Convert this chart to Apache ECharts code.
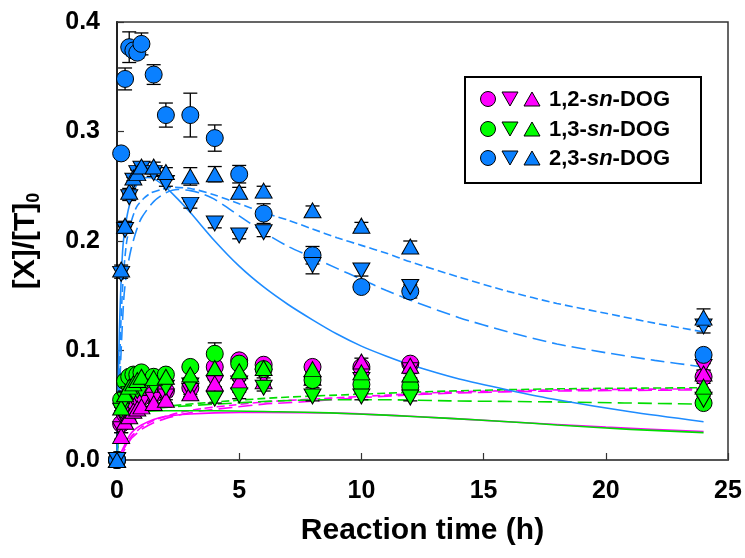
<!DOCTYPE html>
<html><head><meta charset="utf-8">
<script src="https://cdn.jsdelivr.net/npm/echarts@6/dist/echarts.min.js"></script>
<style>html,body{margin:0;padding:0;background:#fff}#c{width:745px;height:558px}</style>
</head><body><div id="c"></div>
<script>
// ---- data ----
const times = [0, 0.17, 0.33, 0.5, 0.67, 0.83, 1, 1.5, 2, 3, 4, 5, 6, 8, 10, 12, 24];
const xTicks = [0, 5, 10, 15, 20, 25];
const yTicks = [0.0, 0.1, 0.2, 0.3, 0.4];

// 1,2-sn-DOG (magenta)
const dog12Circle = [0, 0.033, 0.042, 0.048, 0.052, 0.055, 0.057, 0.060, 0.063, 0.066, 0.085, 0.091, 0.087, 0.085, 0.085, 0.088, 0.076];
const dog12Down   = [0, 0.028, 0.037, 0.043, 0.047, 0.050, 0.052, 0.055, 0.058, 0.063, 0.070, 0.070, 0.076, 0.069, 0.073, 0.082, 0.085];
const dog12Up     = [0, 0.022, 0.035, 0.040, 0.045, 0.047, 0.049, 0.052, 0.055, 0.061, 0.070, 0.072, 0.072, 0.075, 0.090, 0.086, 0.079];
// 1,3-sn-DOG (green)
const dog13Circle = [0, 0.055, 0.072, 0.076, 0.078, 0.078, 0.080, 0.076, 0.078, 0.085, 0.097, 0.088, 0.083, 0.073, 0.069, 0.067, 0.052];
const dog13Down   = [0, 0.045, 0.055, 0.060, 0.062, 0.063, 0.064, 0.067, 0.066, 0.068, 0.056, 0.059, 0.066, 0.058, 0.058, 0.057, 0.055];
const dog13Up     = [0, 0.048, 0.060, 0.067, 0.070, 0.073, 0.076, 0.075, 0.076, 0.078, 0.084, 0.081, 0.084, 0.083, 0.080, 0.078, 0.067];
// 2,3-sn-DOG (blue)
const dog23Circle = [0, 0.280, 0.348, 0.377, 0.374, 0.372, 0.380, 0.352, 0.315, 0.315, 0.294, 0.261, 0.225, 0.187, 0.158, 0.154, 0.096];
const dog23Down   = [0, 0.170, 0.210, 0.240, 0.255, 0.262, 0.266, 0.262, 0.253, 0.233, 0.216, 0.205, 0.208, 0.178, 0.173, 0.158, 0.122];
const dog23Up     = [0, 0.174, 0.214, 0.245, 0.258, 0.262, 0.268, 0.268, 0.263, 0.259, 0.261, 0.245, 0.246, 0.228, 0.214, 0.195, 0.130];

// error half-widths
const dog12CircleErr = [0, 0.003, 0.003, 0.003, 0.003, 0.003, 0.003, 0.003, 0.003, 0.003, 0.004, 0.003, 0.003, 0.003, 0.003, 0.003, 0.003];
const dog12DownErr   = [0, 0.003, 0.003, 0.003, 0.003, 0.003, 0.003, 0.003, 0.003, 0.003, 0.004, 0.003, 0.004, 0.003, 0.003, 0.003, 0.003];
const dog12UpErr     = [0, 0.003, 0.003, 0.003, 0.003, 0.003, 0.003, 0.003, 0.003, 0.003, 0.003, 0.003, 0.003, 0.003, 0.003, 0.003, 0.003];
const dog13CircleErr = [0, 0.003, 0.003, 0.003, 0.003, 0.003, 0.004, 0.003, 0.003, 0.003, 0.010, 0.003, 0.003, 0.003, 0.003, 0.003, 0.003];
const dog13DownErr   = [0, 0.003, 0.003, 0.003, 0.003, 0.003, 0.003, 0.003, 0.003, 0.003, 0.004, 0.003, 0.003, 0.004, 0.003, 0.003, 0.003];
const dog13UpErr     = [0, 0.003, 0.003, 0.003, 0.003, 0.003, 0.003, 0.003, 0.003, 0.003, 0.003, 0.003, 0.003, 0.003, 0.003, 0.003, 0.003];
const dog23CircleErr = [0, 0.004, 0.010, 0.014, 0.005, 0.005, 0.010, 0.009, 0.011, 0.020, 0.012, 0.008, 0.009, 0.008, 0.004, 0.006, 0.004];
const dog23DownErr   = [0, 0.004, 0.003, 0.003, 0.003, 0.003, 0.003, 0.003, 0.003, 0.003, 0.004, 0.003, 0.004, 0.008, 0.005, 0.005, 0.006];
const dog23UpErr     = [0, 0.004, 0.004, 0.003, 0.003, 0.003, 0.003, 0.004, 0.004, 0.008, 0.007, 0.004, 0.004, 0.004, 0.003, 0.005, 0.008];

// fitted model curves ([time, value])
const fit23Solid = [[0,0],[0.05,0.07],[0.1,0.12],[0.17,0.165],[0.25,0.197],[0.35,0.215],[0.5,0.232],[0.75,0.249],[1,0.256],[1.25,0.258],[1.5,0.257],[2,0.249],[2.5,0.238],[3,0.226],[4,0.2],[5,0.177],[6,0.158],[7,0.142],[8,0.128],[9,0.115],[10,0.104],[11,0.095],[12,0.087],[14,0.074],[16,0.064],[18,0.055],[21,0.044],[24,0.035]];
const fit23Short = [[0,0],[0.08,0.06],[0.15,0.12],[0.25,0.165],[0.4,0.2],[0.6,0.219],[0.8,0.231],[1.1,0.239],[1.4,0.244],[1.8,0.247],[2.2,0.249],[3,0.248],[4,0.242],[5,0.234],[6,0.226],[7,0.219],[8,0.211],[9,0.203],[10,0.196],[11,0.189],[12,0.181],[14,0.167],[16,0.154],[18,0.143],[20,0.134],[22,0.125],[24,0.117]];
const fit23Long  = [[0,0],[0.08,0.04],[0.15,0.09],[0.28,0.148],[0.4,0.172],[0.57,0.192],[0.8,0.21],[1,0.221],[1.5,0.236],[2,0.244],[2.5,0.247],[3,0.246],[3.5,0.243],[4,0.238],[5,0.223],[6,0.208],[7,0.195],[8,0.185],[9,0.175],[10,0.165],[11,0.155],[12,0.146],[14,0.13],[16,0.117],[18,0.106],[20,0.098],[22,0.091],[24,0.085]];
const fit12Solid = [[0,0],[0.15,0.006],[0.3,0.013],[0.45,0.02],[0.6,0.025],[0.8,0.029],[1,0.032],[1.5,0.037],[2,0.04],[3,0.042],[4,0.043],[6,0.0435],[8.7,0.043],[12,0.04],[16,0.035],[20,0.03],[24,0.026]];
const fit12Short = [[0,0],[0.15,0.005],[0.3,0.011],[0.45,0.017],[0.6,0.022],[0.8,0.026],[1,0.03],[1.5,0.036],[2,0.04],[2.7,0.044],[3.5,0.047],[4.7,0.05],[6,0.053],[7.5,0.055],[10,0.058],[13.6,0.062],[18,0.064],[24,0.065]];
const fit12Long  = [[0,0],[0.15,0.004],[0.3,0.009],[0.45,0.015],[0.6,0.02],[0.8,0.024],[1,0.028],[1.5,0.034],[2,0.038],[2.7,0.042],[3.5,0.045],[4.7,0.048],[6,0.051],[7.5,0.053],[10,0.057],[13.6,0.061],[18,0.063],[24,0.064]];
const fit13Solid = [[0,0],[0.04,0.025],[0.08,0.036],[0.15,0.039],[0.3,0.041],[0.6,0.043],[1,0.044],[2,0.045],[4,0.045],[6.6,0.044],[8.7,0.043],[11,0.041],[13.6,0.038],[16,0.035],[18,0.032],[21,0.028],[24,0.025]];
const fit13Short = [[0,0],[0.05,0.02],[0.1,0.03],[0.2,0.037],[0.3,0.04],[0.6,0.044],[1,0.046],[2,0.049],[4,0.053],[6.6,0.057],[8.7,0.059],[11,0.061],[13.6,0.063],[18,0.065],[24,0.066]];
const fit13Long  = [[0,0],[0.05,0.02],[0.1,0.03],[0.2,0.037],[0.3,0.04],[0.6,0.043],[1,0.045],[2,0.048],[4,0.051],[6.6,0.054],[8.7,0.055],[11,0.055],[13.6,0.054],[18,0.053],[24,0.051]];

const legendNames = ['1,2-', '1,3-', '2,3-'];

// ---- styles ----
const MAG = '#FF00FF', GRN = '#00FF00', BLU = '#0A80FF';
const MAGL = '#FF00FF', GRNL = '#00DD00', BLUL = '#1E8CFF';
const FONT = 'Liberation Sans, Arial, sans-serif';

function lineSeries(data, color, type) {
  return {
    type: 'line', data: data, showSymbol: false, smooth: 0.25,
    lineStyle: { color: color, width: 1.6, type: type }, z: 1, silent: true
  };
}
function errSeries(vals, errs) {
  return {
    type: 'custom', z: 2, silent: true,
    data: times.map((t, i) => [t, vals[i], errs[i]]),
    encode: { x: 0, y: 1 },
    renderItem: function (params, api) {
      const x = api.value(0), y = api.value(1), e = api.value(2);
      if (!e) return null;
      const hi = api.coord([x, y + e]), lo = api.coord([x, y - e]);
      const w = 7, st = { stroke: '#000', lineWidth: 1.3 };
      return { type: 'group', children: [
        { type: 'line', shape: { x1: hi[0], y1: hi[1], x2: lo[0], y2: lo[1] }, style: st },
        { type: 'line', shape: { x1: hi[0] - w, y1: hi[1], x2: hi[0] + w, y2: hi[1] }, style: st },
        { type: 'line', shape: { x1: lo[0] - w, y1: lo[1], x2: lo[0] + w, y2: lo[1] }, style: st }
      ]};
    }
  };
}
function scatterSeries(vals, color, kind) {
  return {
    type: 'scatter', z: 3, silent: true,
    data: times.map((t, i) => [t, vals[i]]),
    symbol: kind === 'circle' ? 'circle' : 'triangle',
    symbolRotate: kind === 'down' ? 180 : 0,
    symbolSize: kind === 'circle' ? 17 : [17, 15],
    itemStyle: { color: color, borderColor: '#000', borderWidth: 1, opacity: 1 }
  };
}

const series = [
  lineSeries(fit12Solid, MAGL, 'solid'), lineSeries(fit12Short, MAGL, [8, 4]), lineSeries(fit12Long, MAGL, [14, 6]),
  lineSeries(fit13Solid, GRNL, 'solid'), lineSeries(fit13Short, GRNL, [8, 4]), lineSeries(fit13Long, GRNL, [14, 6]),
  lineSeries(fit23Solid, BLUL, 'solid'), lineSeries(fit23Short, BLUL, [8, 4]), lineSeries(fit23Long, BLUL, [14, 6]),
  errSeries(dog12Circle, dog12CircleErr), errSeries(dog12Down, dog12DownErr), errSeries(dog12Up, dog12UpErr),
  errSeries(dog13Circle, dog13CircleErr), errSeries(dog13Down, dog13DownErr), errSeries(dog13Up, dog13UpErr),
  errSeries(dog23Circle, dog23CircleErr), errSeries(dog23Down, dog23DownErr), errSeries(dog23Up, dog23UpErr),
  scatterSeries(dog12Circle, MAG, 'circle'), scatterSeries(dog12Down, MAG, 'down'), scatterSeries(dog12Up, MAG, 'up'),
  scatterSeries(dog13Circle, GRN, 'circle'), scatterSeries(dog13Down, GRN, 'down'), scatterSeries(dog13Up, GRN, 'up'),
  scatterSeries(dog23Circle, BLU, 'circle'), scatterSeries(dog23Down, BLU, 'down'), scatterSeries(dog23Up, BLU, 'up')
];

// legend built as graphics (three symbols per row)
const legendColors = [MAG, GRN, BLU];
const rowY = [99, 129, 158];
const legendGraphics = [{
  type: 'rect', shape: { x: 465, y: 77, width: 236, height: 106 },
  style: { fill: '#fff', stroke: '#000', lineWidth: 2 }, z: 10
}];
legendNames.forEach((nm, i) => {
  const cy = rowY[i], col = legendColors[i];
  legendGraphics.push(
    { type: 'circle', shape: { cx: 488, cy: cy, r: 7.5 }, style: { fill: col, stroke: '#000', lineWidth: 1 }, z: 11 },
    { type: 'polygon', shape: { points: [[502, cy - 7], [518, cy - 7], [510, cy + 7]] }, style: { fill: col, stroke: '#000', lineWidth: 1 }, z: 11 },
    { type: 'polygon', shape: { points: [[524, cy + 7], [540, cy + 7], [532, cy - 7]] }, style: { fill: col, stroke: '#000', lineWidth: 1 }, z: 11 },
    { type: 'text', x: 549, y: cy + 1, z: 11, style: {
      text: '{a|' + nm + '}{i|sn}{a|-DOG}', verticalAlign: 'middle', align: 'left',
      rich: {
        a: { fontSize: 22, fontWeight: 'bold', fontFamily: FONT, fill: '#000' },
        i: { fontSize: 22, fontWeight: 'bold', fontStyle: 'italic', fontFamily: FONT, fill: '#000' }
      }
    }}
  );
});

const chart = echarts.init(document.getElementById('c'), null, { renderer: 'canvas' });
chart.setOption({
  animation: false,
  backgroundColor: '#fff',
  grid: { left: 117, right: 17, top: 22, bottom: 98, show: true, borderColor: '#333', borderWidth: 1.5, backgroundColor: 'transparent' },
  xAxis: {
    type: 'value', min: xTicks[0], max: xTicks[xTicks.length - 1], interval: 5,
    name: 'Reaction time (h)', nameLocation: 'middle', nameGap: 56,
    nameTextStyle: { fontSize: 30, fontWeight: 'bold', fontFamily: FONT, color: '#000' },
    axisLine: { onZero: false, lineStyle: { color: '#555', width: 2 } },
    axisTick: { inside: true, length: 7, lineStyle: { color: '#333', width: 1.2 } },
    axisLabel: { fontSize: 25, fontWeight: 'bold', fontFamily: FONT, color: '#000', margin: 19 },
    splitLine: { show: false }
  },
  yAxis: {
    type: 'value', min: yTicks[0], max: yTicks[yTicks.length - 1], interval: 0.1,
    name: '{a|[X]/[T]}{b|0}', nameLocation: 'middle', nameGap: 74,
    nameTextStyle: {
      rich: {
        a: { fontSize: 30, fontWeight: 'bold', fontFamily: FONT, color: '#000', lineHeight: 34, verticalAlign: 'middle' },
        b: { fontSize: 18, fontWeight: 'bold', fontFamily: FONT, color: '#000', lineHeight: 34, verticalAlign: 'bottom' }
      }
    },
    axisLine: { onZero: false, lineStyle: { color: '#222', width: 2 } },
    axisTick: { inside: true, length: 7, lineStyle: { color: '#333', width: 1.2 } },
    axisLabel: { fontSize: 25, fontWeight: 'bold', fontFamily: FONT, color: '#000', margin: 17,
      formatter: v => v.toFixed(1) },
    splitLine: { show: false }
  },
  series: series,
  graphic: legendGraphics
});
</script>
</body></html>
